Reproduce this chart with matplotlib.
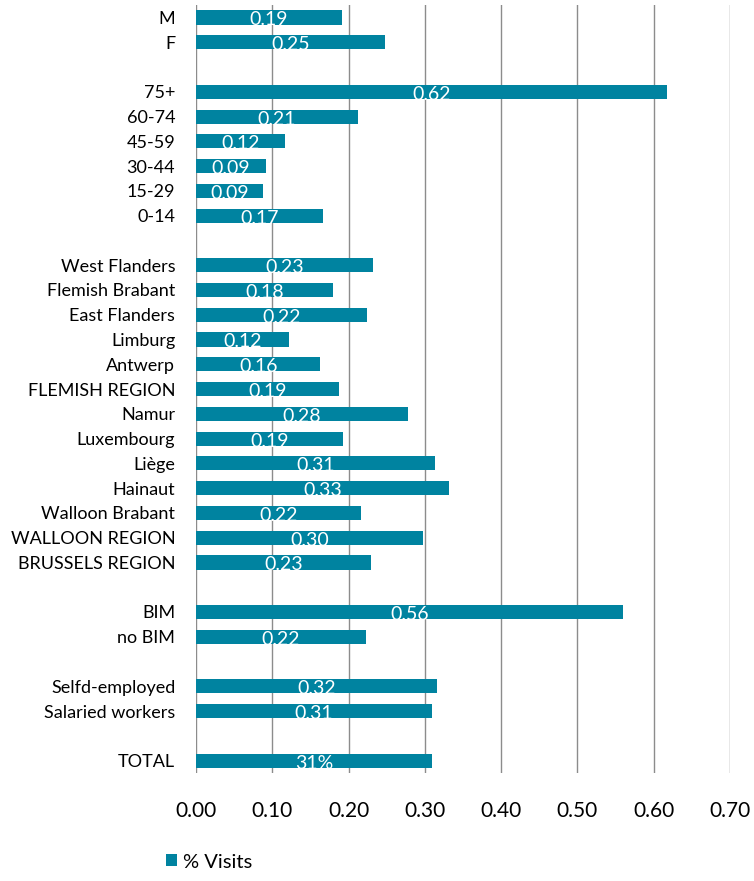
import numpy as np
import matplotlib.pyplot as plt

plt.rcParams['font.family'] = ['Lato', 'DejaVu Sans']

# categories per group, top to bottom; groups are separated by an empty row
sexe = ['M', 'F']
sexe_vals = [0.191, 0.248]

ages = ['75+', '60-74', '45-59', '30-44', '15-29', '0-14']
ages_vals = [0.617, 0.212, 0.116, 0.092, 0.088, 0.166]

regions = ['West Flanders', 'Flemish Brabant', 'East Flanders', 'Limburg', 'Antwerp',
           'FLEMISH REGION', 'Namur', 'Luxembourg', 'Liège', 'Hainaut',
           'Walloon Brabant', 'WALLOON REGION', 'BRUSSELS REGION']
regions_vals = [0.232, 0.180, 0.224, 0.122, 0.163, 0.187, 0.278, 0.193, 0.313,
                0.332, 0.216, 0.298, 0.229]

bim = ['BIM', 'no BIM']
bim_vals = [0.560, 0.223]

statut = ['Selfd-employed', 'Salaried workers']
statut_vals = [0.316, 0.309]

total = ['TOTAL']
total_vals = [0.309]

groupes = [(sexe, sexe_vals), (ages, ages_vals), (regions, regions_vals),
           (bim, bim_vals), (statut, statut_vals), (total, total_vals)]

labels, vals = [], []
for i, (cats, v) in enumerate(groupes):
    if i > 0:
        labels.append('')
        vals.append(np.nan)
    labels += cats
    vals += v
pos = np.arange(len(labels))

couleur = '#0083A0'

fig = plt.figure(figsize=(7.54, 8.81), dpi=100)
ax = fig.add_axes([0.26, 0.1226, 0.708, 0.8716])

ax.barh(pos, vals, height=0.57, color=couleur, label='% Visits', zorder=3)

for p, v, lab in zip(pos, vals, labels):
    if np.isnan(v):
        continue
    txt = f'{v:.0%}' if lab == 'TOTAL' else f'{v:.2f}'
    ax.text(v / 2, p + 0.1, txt, ha='center', va='center', color='white',
            fontsize=14, zorder=4)

ax.set_ylim(len(labels) - 0.5, -0.5)
ax.set_yticks(pos)
ax.set_yticklabels(labels, fontsize=13)
ax.set_xlim(0, 0.70)
ax.set_xticks(np.arange(0, 0.71, 0.1))
ax.set_xticklabels([f'{t:.2f}' for t in np.arange(0, 0.71, 0.1)], fontsize=15)
ax.tick_params(axis='y', length=0, pad=15)
ax.tick_params(axis='x', length=0, pad=20)
for s in ax.spines.values():
    s.set_visible(False)
ax.grid(axis='x', color='#8c8c8c', linewidth=1, zorder=0)
ax.set_axisbelow(True)

fig.legend(loc='center left', bbox_to_anchor=(148 / 754, 1 - 862 / 881),
           frameon=False, fontsize=14.5, handlelength=0.55, handleheight=0.55,
           handletextpad=0.3)

fig.savefig('out.png', dpi=100)
